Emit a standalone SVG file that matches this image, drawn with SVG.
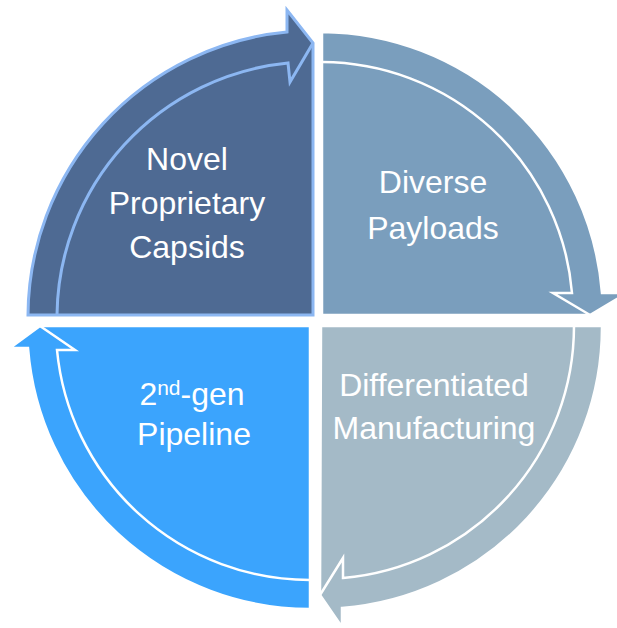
<svg xmlns="http://www.w3.org/2000/svg" width="617" height="628" viewBox="0 0 617 628">
  <style>
    .lbl { font-family: "Liberation Sans", Arial, sans-serif; font-size: 32px; fill: #ffffff; text-anchor: middle; }
    .edge-tl { stroke: #8cb7f2; stroke-width: 3; stroke-linejoin: miter; }
    .edge-w { stroke: #ffffff; stroke-width: 2.5; stroke-linejoin: miter; }
    .rim { fill: none; }
    .q-tl { fill: #4e6a93; }
    .q-tr { fill: #7a9ebd; }
    .q-br { fill: #a4bac7; }
    .q-bl { fill: #3ba4fd; }
  </style>
  <rect width="617" height="628" fill="#ffffff"/>

  <!-- Top-left quadrant with clockwise arrow rim -->
  <g id="novel-capsids">
    <path class="q-tl edge-tl" d="M28,315 A286,286 0 0 1 287,32 L287,10 L313,43 L313,315 Z"/>
    <path class="rim edge-tl" d="M57,315 A256,256 0 0 1 288,63 L290,82 L313,43"/>
    <text class="lbl" x="187" y="170">Novel</text>
    <text class="lbl" x="187" y="214">Proprietary</text>
    <text class="lbl" x="187" y="258">Capsids</text>
  </g>

  <!-- Top-right quadrant -->
  <g id="diverse-payloads">
    <path class="q-tr edge-w" d="M322,315 L322,32 A283,283 0 0 1 602,293 L627,293 L590,315 Z"/>
    <path class="rim edge-w" d="M322,62 A252,252 0 0 1 572,293 L553,293 L590,315"/>
    <text class="lbl" x="433" y="193">Diverse</text>
    <text class="lbl" x="433" y="239">Payloads</text>
  </g>

  <!-- Bottom-right quadrant -->
  <g id="differentiated-manufacturing">
    <path class="q-br edge-w" d="M321,326 L602,326 A282,282 0 0 1 342,608 L342,627 L320,595 Z"/>
    <path class="rim edge-w" d="M574,326 A253,253 0 0 1 343,578 L343,558 L320,595"/>
    <text class="lbl" x="434" y="396">Differentiated</text>
    <text class="lbl" x="434" y="439">Manufacturing</text>
  </g>

  <!-- Bottom-left quadrant -->
  <g id="next-gen-pipeline">
    <path class="q-bl edge-w" d="M310,326 L310,609 A283,283 0 0 1 28,348 L10,348 L40,326 Z"/>
    <path class="rim edge-w" d="M310,580 A254,254 0 0 1 57,350 L75,350 L40,326"/>
    <text class="lbl" x="192" y="405">2<tspan font-size="21" dy="-10">nd</tspan><tspan dy="10">-gen</tspan></text>
    <text class="lbl" x="194" y="445">Pipeline</text>
  </g>

  <g id="connectors"></g>
</svg>
